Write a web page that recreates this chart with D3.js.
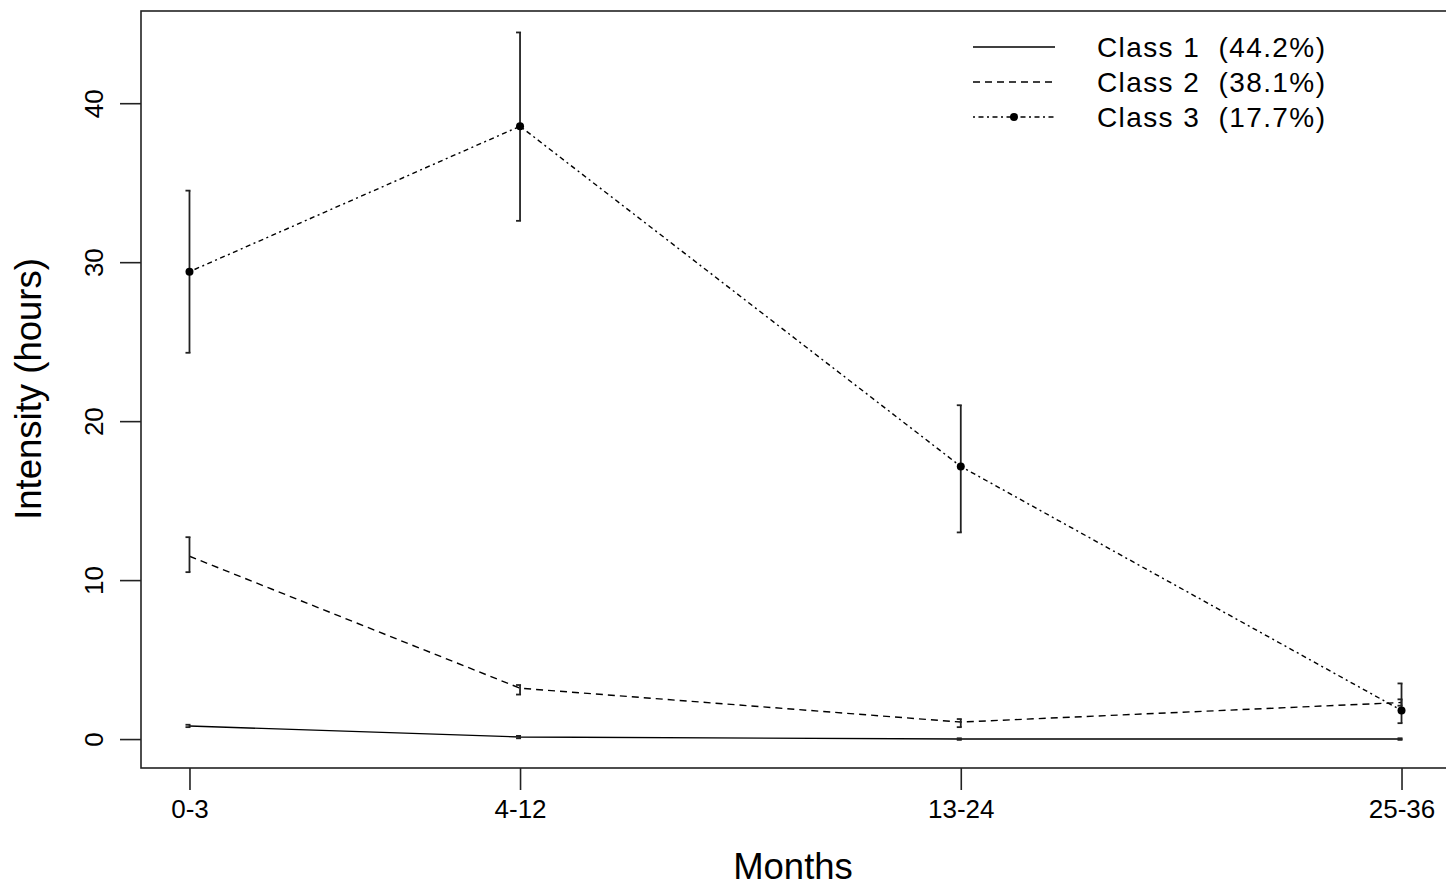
<!DOCTYPE html>
<html>
<head>
<meta charset="utf-8">
<script src="https://cdn.jsdelivr.net/npm/d3@7"></script>
<style>
  body { margin: 0; background: #fff; }
  text { font-family: "Liberation Sans", Arial, sans-serif; fill: #000; }
</style>
</head>
<body>
<script>
// months (upper end of each period) and their labels
var months = [3, 12, 24, 36];
var monthLabels = ["0-3", "4-12", "13-24", "25-36"];
var yTicks = [0, 10, 20, 30, 40];

var class1 = [0.82, 0.13, 0.0, 0.0];
var class1Lo = [0.75, 0.05, -0.05, -0.05];
var class1Hi = [0.9, 0.2, 0.05, 0.05];

var class2 = [11.5, 3.2, 1.07, 2.3];
var class2Lo = [10.5, 2.8, 0.75, 2.1];
var class2Hi = [12.7, 3.4, 1.26, 2.5];

var class3 = [29.4, 38.55, 17.15, 1.8];
var class3Lo = [24.3, 32.6, 13.0, 1.0];
var class3Hi = [34.5, 44.45, 21.0, 3.5];

var legendLabels = ["Class 1  (44.2%)", "Class 2  (38.1%)", "Class 3  (17.7%)"];

var width = 1446, height = 886;

var svg = d3.select("body").append("svg")
    .attr("width", width)
    .attr("height", height);

var x = d3.scaleLinear().domain([1.68, 37.32]).range([141, 1450]);
var y = d3.scaleLinear().domain([-1.82, 45.8]).range([768, 11]);

var series = [
  {v: class1, lo: class1Lo, hi: class1Hi, dash: null, pts: false},
  {v: class2, lo: class2Lo, hi: class2Hi, dash: "7,5", pts: false},
  {v: class3, lo: class3Lo, hi: class3Hi, dash: "2,3.5,5,3.5", pts: true}
];

var line = d3.line()
    .x(function(d, i) { return x(months[i]); })
    .y(function(d) { return y(d); });

// lines
series.forEach(function(s) {
  svg.append("path")
      .attr("d", line(s.v))
      .attr("fill", "none")
      .attr("stroke", "#000")
      .attr("stroke-width", 1.4)
      .attr("stroke-dasharray", s.dash);
});

// error bars
series.forEach(function(s) {
  var g = svg.append("g").attr("stroke", "#222").attr("stroke-width", 1.8);
  s.v.forEach(function(d, i) {
    var cx = x(months[i]);
    g.append("line").attr("x1", cx).attr("x2", cx).attr("y1", y(s.lo[i])).attr("y2", y(s.hi[i]));
    g.append("line").attr("x1", cx - 4).attr("x2", cx + 1).attr("y1", y(s.lo[i])).attr("y2", y(s.lo[i]));
    g.append("line").attr("x1", cx - 4).attr("x2", cx + 1).attr("y1", y(s.hi[i])).attr("y2", y(s.hi[i]));
  });
  if (s.pts) {
    svg.append("g").selectAll("circle")
      .data(s.v)
      .enter().append("circle")
        .attr("cx", function(d, i) { return x(months[i]); })
        .attr("cy", function(d) { return y(d); })
        .attr("r", 4)
        .attr("fill", "#000");
  }
});

// box
svg.append("rect")
    .attr("x", x.range()[0])
    .attr("y", y.range()[1])
    .attr("width", x.range()[1] - x.range()[0])
    .attr("height", y.range()[0] - y.range()[1])
    .attr("fill", "none")
    .attr("stroke", "#222")
    .attr("stroke-width", 1.6);

// x axis
var xAxis = svg.append("g")
    .attr("transform", "translate(0," + y.range()[0] + ")")
    .call(d3.axisBottom(x).tickValues(months)
      .tickFormat(function(d, i) { return monthLabels[i]; })
      .tickSize(22).tickPadding(10).tickSizeOuter(0));
xAxis.select(".domain").remove();
xAxis.selectAll("line").attr("stroke", "#222").attr("stroke-width", 1.6);
xAxis.selectAll("text").attr("font-size", 26).attr("font-family", "Liberation Sans, Arial, sans-serif");

// y axis
var yAxis = svg.append("g")
    .attr("transform", "translate(" + x.range()[0] + ",0)")
    .call(d3.axisLeft(y).tickValues(yTicks).tickSize(21).tickSizeOuter(0));
yAxis.select(".domain").remove();
yAxis.selectAll("line").attr("stroke", "#222").attr("stroke-width", 1.6);
yAxis.selectAll("text")
    .attr("font-size", 26)
    .attr("font-family", "Liberation Sans, Arial, sans-serif")
    .attr("text-anchor", "middle")
    .attr("x", null).attr("dy", null)
    .attr("transform", "translate(-47,0) rotate(-90)")
    .attr("y", 0).attr("dy", "0.35em");

// axis titles
svg.append("text")
    .attr("x", 793)
    .attr("y", 879)
    .attr("text-anchor", "middle")
    .attr("font-size", 36.5)
    .text("Months");

svg.append("text")
    .attr("transform", "translate(41,389) rotate(-90)")
    .attr("text-anchor", "middle")
    .attr("font-size", 36.5)
    .text("Intensity (hours)");

// legend
var legend = svg.append("g").selectAll("g")
    .data(series)
    .enter().append("g")
      .attr("transform", function(d, i) { return "translate(973," + (47 + i * 35) + ")"; });

legend.append("line")
    .attr("x1", 0).attr("x2", 82)
    .attr("stroke", "#000").attr("stroke-width", 1.4)
    .attr("stroke-dasharray", function(d) { return d.dash; });
legend.filter(function(d) { return d.pts; }).append("circle")
    .attr("cx", 41).attr("r", 4).attr("fill", "#000");
legend.append("text")
    .attr("x", 124)
    .attr("dy", "0.35em")
    .attr("font-size", 28)
    .attr("letter-spacing", 1.4)
    .style("white-space", "pre")
    .text(function(d, i) { return legendLabels[i]; });
</script>
</body>
</html>
